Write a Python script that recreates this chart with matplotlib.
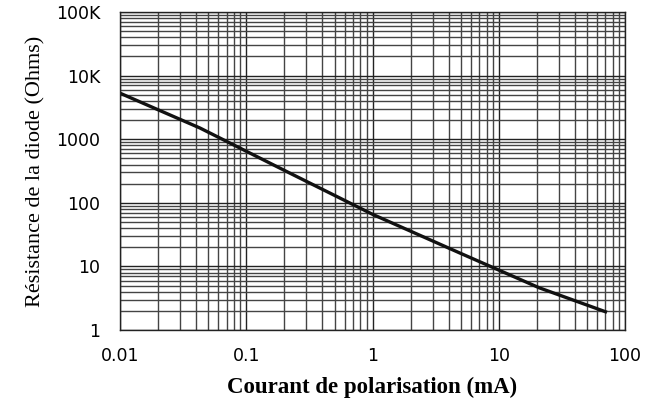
import matplotlib.pyplot as plt
from matplotlib.ticker import LogLocator, NullFormatter, FixedLocator

# courbe
courant = [0.01, 0.043, 0.22, 1.0, 4.9, 21, 72]
resistance = [5300, 1500, 295, 66, 16.3, 4.6, 1.9]

xticks = [0.01, 0.1, 1, 10, 100]
xlabels = ['0.01', '0.1', '1', '10', '100']
yticks = [1, 10, 100, 1000, 10000, 100000]
ylabels = ['1', '10', '100', '1000', '10K', '100K']

fig = plt.figure(figsize=(6.47, 4.01), dpi=100)
ax = fig.add_axes([0.1855, 0.177, 0.7805, 0.793])

ax.plot(courant, resistance, color='#111111', lw=2.4, solid_capstyle='butt',
        solid_joinstyle='round')

ax.set_xscale('log')
ax.set_yscale('log')
ax.set_xlim(0.01, 100)
ax.set_ylim(1, 100000)

ax.xaxis.set_major_locator(FixedLocator(xticks))
ax.set_xticklabels(xlabels)
ax.yaxis.set_major_locator(FixedLocator(yticks))
ax.set_yticklabels(ylabels)
ax.xaxis.set_minor_locator(LogLocator(base=10, subs=range(2, 10)))
ax.yaxis.set_minor_locator(LogLocator(base=10, subs=range(2, 10)))
ax.xaxis.set_minor_formatter(NullFormatter())
ax.yaxis.set_minor_formatter(NullFormatter())

ax.grid(True, which='major', color='#222222', lw=1.0)
ax.grid(True, which='minor', color='#444444', lw=1.0)
ax.set_axisbelow(True)

ax.tick_params(which='both', length=0)
ax.tick_params(axis='x', pad=12, labelsize=12.5)
ax.tick_params(axis='y', pad=14, labelsize=12.5)
for lab in ax.get_xticklabels() + ax.get_yticklabels():
    lab.set_family('DejaVu Sans')

for s in ax.spines.values():
    s.set_color('#222222')
    s.set_linewidth(1.0)

ax.set_xlabel('Courant de polarisation (mA)', family='Liberation Serif',
              fontweight='bold', fontsize=16.5, labelpad=9)
ax.set_ylabel('Résistance de la diode (Ohms)', family='Liberation Serif',
              fontsize=16, labelpad=8)

fig.savefig('out.png', dpi=100)
